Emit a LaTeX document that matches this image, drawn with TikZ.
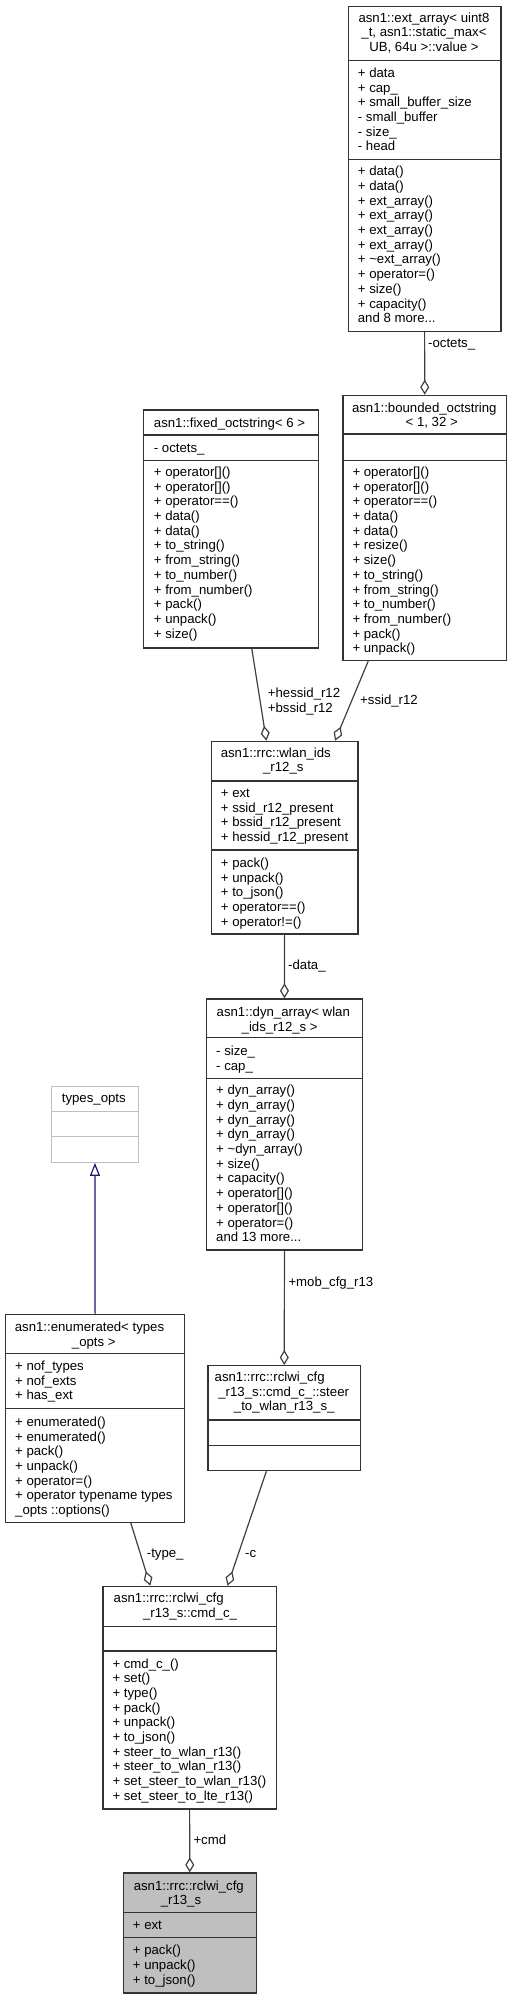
\documentclass[tikz,border=0pt]{standalone}
\usepackage{fontspec}
\setmainfont{Liberation Sans}
\usetikzlibrary{arrows.meta,calc}
\definecolor{edgecol}{HTML}{404040}
\definecolor{boxcol}{HTML}{333333}
\definecolor{graycol}{HTML}{BFBFBF}
\definecolor{inhcol}{HTML}{191970}
\newcommand{\umlclassbox}[8]{%
  \node[#8, anchor=north west, minimum width={(#4)-(#2)}, minimum height={(#5)-(#3)}] (#1) at (#2,#3) {};
  \draw[#8line] ($(#1.north west)+(0,{(#6)-(#3)})$) -- ($(#1.north east)+(0,{(#6)-(#3)})$);
  \draw[#8line] ($(#1.north west)+(0,{(#7)-(#3)})$) -- ($(#1.north east)+(0,{(#7)-(#3)})$);
}
\tikzset{
  cls/.style={draw=boxcol, line width=1.2pt, fill=white, inner sep=0pt},
  clsline/.style={draw=boxcol, line width=1.2pt},
  clsfill/.style={cls, fill=graycol},
  clsfillline/.style={clsline},
  clsext/.style={draw=graycol, line width=1.2pt, fill=white, inner sep=0pt},
  clsextline/.style={draw=graycol, line width=1.2pt},
  txtfont/.style={font=\fontsize{13.2}{14.7}\selectfont},
  tit/.style={txtfont, inner sep=0pt, anchor=base},
  mem/.style={txtfont, inner sep=0pt, anchor=north west, align=left},
  lab/.style={txtfont, inner sep=0pt, anchor=base west},
  agg/.style={draw=edgecol, line width=1.2pt, -{Diamond[open, length=15pt, width=9pt, line width=1.2pt]}},
  inh/.style={draw=inhcol, line width=1.2pt, -{Triangle[open, length=13pt, width=10pt, line width=1.2pt]}}
}
\begin{document}
\begin{tikzpicture}[x=1pt,y=-1pt]
\fill[white] (0,0) rectangle (511,1999);
\useasboundingbox (0,0) rectangle (511,1999);

% ext_array
\umlclassbox{ext}{347.7}{5.7}{500.3}{331}{60.7}{159.3}{cls}
\node[tit] (ext-t1) at (424,22.8) {asn1::ext\_array< uint8};
\node[tit] (ext-t2) at (424,36.8) {\_t, asn1::static\_max<};
\node[tit] (ext-t3) at (424,51.2) {UB, 64u >::value >};
\node[mem] (ext-a) at (357.7,77.2-10.29) {\strut+ data\\+ cap\_\\+ small\_buffer\_size\\- small\_buffer\\- size\_\\- head};
\node[mem] (ext-m) at (357.7,175.5-10.29) {\strut+ data()\\+ data()\\+ ext\_array()\\+ ext\_array()\\+ ext\_array()\\+ ext\_array()\\+ \textasciitilde ext\_array()\\+ operator=()\\+ size()\\+ capacity()\\and 8 more...};

% bounded_octstring
\umlclassbox{bounded}{342.3}{394.7}{506}{660}{434}{460.3}{cls}
\node[tit] (bounded-t1) at (424.3,412.8) {asn1::bounded\_octstring};
\node[tit] (bounded-t2) at (431.7,426.8) {< 1, 32 >};
\node[mem] (bounded-m) at (352.3,476.2-10.29) {\strut+ operator[]()\\+ operator[]()\\+ operator==()\\+ data()\\+ data()\\+ resize()\\+ size()\\+ to\_string()\\+ from\_string()\\+ to\_number()\\+ from\_number()\\+ pack()\\+ unpack()};

% fixed_octstring
\umlclassbox{fixed}{142.7}{409.3}{317.7}{647.3}{435}{460.7}{cls}
\node[tit] (fixed-t1) at (229.5,427.8) {asn1::fixed\_octstring< 6 >};
\node[mem] (fixed-a) at (153.7,452.2-10.29) {\strut- octets\_};
\node[mem] (fixed-m) at (153.7,476.2-10.29) {\strut+ operator[]()\\+ operator[]()\\+ operator==()\\+ data()\\+ data()\\+ to\_string()\\+ from\_string()\\+ to\_number()\\+ from\_number()\\+ pack()\\+ unpack()\\+ size()};

% wlan_ids_r12_s
\umlclassbox{wlan}{210.7}{740.7}{357.3}{933.3}{781}{850}{cls}
\node[tit] (wlan-t1) at (275.8,757.8) {asn1::rrc::wlan\_ids};
\node[tit] (wlan-t2) at (283.3,771.8) {\_r12\_s};
\node[mem] (wlan-a) at (220.7,797.2-10.29) {\strut+ ext\\+ ssid\_r12\_present\\+ bssid\_r12\_present\\+ hessid\_r12\_present};
\node[mem] (wlan-m) at (220.7,867.2-10.29) {\strut+ pack()\\+ unpack()\\+ to\_json()\\+ operator==()\\+ operator!=()};

% dyn_array
\umlclassbox{dyn}{206}{998.3}{361.7}{1249.3}{1037.3}{1078.3}{cls}
\node[tit] (dyn-t1) at (283.3,1016.2) {asn1::dyn\_array< wlan};
\node[tit] (dyn-t2) at (279.7,1031.2) {\_ids\_r12\_s >};
\node[mem] (dyn-a) at (216,1055.2-10.29) {\strut- size\_\\- cap\_};
\node[mem] (dyn-m) at (216,1094.5-10.29) {\strut+ dyn\_array()\\+ dyn\_array()\\+ dyn\_array()\\+ dyn\_array()\\+ \textasciitilde dyn\_array()\\+ size()\\+ capacity()\\+ operator[]()\\+ operator[]()\\+ operator=()\\and 13 more...};

% types_opts
\umlclassbox{types}{51}{1085.7}{137.7}{1161.7}{1111.7}{1136.7}{clsext}
\node[tit] (types-t1) at (93.8,1102.2) {types\_opts};

% enumerated
\umlclassbox{enum}{5}{1314}{184}{1521.7}{1353.3}{1408.3}{cls}
\node[tit] (enum-t1) at (89.5,1331.2) {asn1::enumerated< types};
\node[tit] (enum-t2) at (93.8,1346.2) {\_opts >};
\node[mem] (enum-a) at (15,1370.2-10.29) {\strut+ nof\_types\\+ nof\_exts\\+ has\_ext};
\node[mem] (enum-m) at (15,1426.2-10.29) {\strut+ enumerated()\\+ enumerated()\\+ pack()\\+ unpack()\\+ operator=()\\+ operator typename types\\\_opts ::options()};

% steer_to_wlan_r13_s_
\umlclassbox{steer}{207.3}{1365}{360}{1470}{1420}{1445.7}{cls}
\node[tit] (steer-t1) at (269.7,1381.2) {asn1::rrc::rclwi\_cfg};
\node[tit] (steer-t2) at (283.7,1396.2) {\_r13\_s::cmd\_c\_::steer};
\node[tit] (steer-t3) at (284.2,1410.5) {\_to\_wlan\_r13\_s\_};

% cmd_c_
\umlclassbox{cmd}{102.3}{1585.7}{275.7}{1808.3}{1626.7}{1651}{cls}
\node[tit] (cmd-t1) at (168.7,1602.8) {asn1::rrc::rclwi\_cfg};
\node[tit] (cmd-t2) at (190,1617.8) {\_r13\_s::cmd\_c\_};
\node[mem] (cmd-m) at (112.3,1667.8-10.29) {\strut+ cmd\_c\_()\\+ set()\\+ type()\\+ pack()\\+ unpack()\\+ to\_json()\\+ steer\_to\_wlan\_r13()\\+ steer\_to\_wlan\_r13()\\+ set\_steer\_to\_wlan\_r13()\\+ set\_steer\_to\_lte\_r13()};

% rclwi_cfg_r13_s
\umlclassbox{rclwi}{122.7}{1872.3}{255.7}{1992.3}{1912.7}{1937.3}{clsfill}
\node[tit] (rclwi-t1) at (188.8,1890.5) {asn1::rrc::rclwi\_cfg};
\node[tit] (rclwi-t2) at (181,1904.5) {\_r13\_s};
\node[mem] (rclwi-a) at (132.7,1929.5-10.29) {\strut+ ext};
\node[mem] (rclwi-m) at (132.7,1954.5-10.29) {\strut+ pack()\\+ unpack()\\+ to\_json()};

% connectors
\draw[agg] (ext.south) -- (bounded.north);
\node[lab] (l-octets) at (428,347.5) {-octets\_};

\draw[agg] ($(fixed.south west)!0.619!(fixed.south east)$) -- ($(wlan.north west)!0.377!(wlan.north east)$);
\node[mem] (l-hessid) at (267.7,697.2-10.29) {\strut+hessid\_r12\\+bssid\_r12};

\draw[agg] ($(bounded.south west)!0.157!(bounded.south east)$) -- ($(wlan.north west)!0.841!(wlan.north east)$);
\node[lab] (l-ssid) at (360,704.5) {+ssid\_r12};

\draw[agg] (wlan.south) -- (dyn.north);
\node[lab] (l-data) at (288,969.5) {-data\_};

\draw[agg] (dyn.south) -- (steer.north);
\node[lab] (l-mob) at (288.3,1286.2) {+mob\_cfg\_r13};

\draw[agg] ($(steer.south west)!0.384!(steer.south east)$) -- ($(cmd.north west)!0.717!(cmd.north east)$);
\node[lab] (l-c) at (245,1557.3) {-c};

\draw[agg] ($(enum.south west)!0.698!(enum.south east)$) -- ($(cmd.north west)!0.275!(cmd.north east)$);
\node[lab] (l-type) at (146.7,1557.3) {-type\_};

\draw[agg] (cmd.south) -- (rclwi.north);
\node[lab] (l-cmd) at (193.3,1844.5) {+cmd};

\draw[inh] (enum.north) -- (types.south);
\end{tikzpicture}
\end{document}
